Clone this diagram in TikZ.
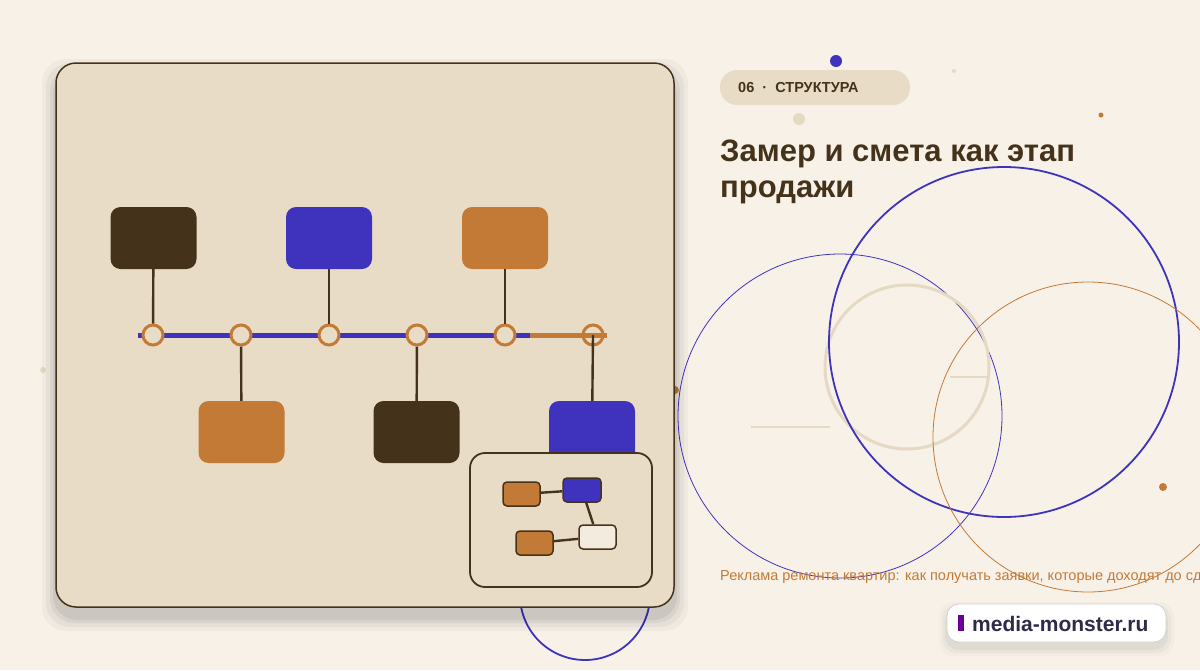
\documentclass[tikz,border=0pt]{standalone}
\usepackage{fontspec}
\setmainfont{Liberation Sans}
\definecolor{bg}{HTML}{F7F1E8}
\definecolor{card}{HTML}{E9DCC6}
\definecolor{dk}{HTML}{45321A}
\definecolor{bl}{HTML}{3F33BE}
\definecolor{or}{HTML}{C47A37}
\definecolor{bei}{HTML}{E6D9C4}
\definecolor{cream}{HTML}{F3EBDD}
\begin{document}
\begin{tikzpicture}[x=1pt,y=-1pt,
  box/.style={rounded corners=10pt,draw=none},
  ibox/.style={rounded corners=4pt,draw=dk,line width=1.5pt},
  conn/.style={draw=dk,line width=2.4pt},
  tc/.style={circle,draw=or,line width=3pt,fill=card,minimum size=20pt,inner sep=0pt},
  dot/.style={circle,inner sep=0pt}]
\fill[bg] (0,0) rectangle (1200,670);
\useasboundingbox (0,0) rectangle (1200,670);
% background circles
\draw[bl,line width=1.8pt] (585,595) circle (65);
\draw[bl,line width=0.8pt] (840,416) circle (162);
\draw[bei,line width=3pt] (907,367) circle (82);
\draw[bl,line width=1.8pt] (1004,342) circle (175);
\draw[or,line width=0.8pt] (1088,437) circle (155);
\draw[bei,line width=1.5pt] (751,427) -- (830,427);
\draw[bei,line width=1.5pt] (950,377) -- (990,377);
\node[dot,fill=bl,minimum size=12pt] (d1) at (836,61) {};
\node[dot,fill=bei,minimum size=12pt] (d2) at (799,119) {};
\node[dot,fill=bei,minimum size=4pt] (d3) at (954,71) {};
\node[dot,fill=or,minimum size=5pt] (d4) at (1101,115) {};
\node[dot,fill=or,minimum size=8pt] (d5) at (1163,487) {};
\node[dot,fill=bei,minimum size=6pt] (d6) at (43,370) {};
\node[dot,fill=or,minimum size=8pt] (d7) at (675,390) {};
% card shadow
\foreach \s/\o in {14/0.03,10/0.04,6/0.05,3/0.06}{
  \fill[black,opacity=\o,rounded corners=24pt] (56-\s,63-\s+10) rectangle (674+\s,607+\s+10);}
% main card
\draw[fill=card,draw=dk,line width=1.5pt,rounded corners=20pt] (56,63) rectangle (674,607);
% boxes
\node[box,fill=dk,minimum width=86pt,minimum height=62pt] (t1) at (153.5,238) {};
\node[box,fill=bl,minimum width=86pt,minimum height=62pt] (t2) at (329,238) {};
\node[box,fill=or,minimum width=86pt,minimum height=62pt] (t3) at (505,238) {};
\node[box,fill=or,minimum width=86pt,minimum height=62pt] (b1) at (241.5,432) {};
\node[box,fill=dk,minimum width=86pt,minimum height=62pt] (b2) at (416.5,432) {};
\node[box,fill=bl,minimum width=86pt,minimum height=62pt] (b3) at (592,432) {};
% timeline
\coordinate (l0) at (138,335); \coordinate (lm) at (530,335); \coordinate (l1) at (607,335);
\draw[bl,line width=5pt] (l0) -- (lm);
\draw[or,line width=5pt] (lm) -- (l1);
\foreach \i/\x in {1/153,2/241,3/329,4/417,5/505}{\node[tc] (c\i) at (\x,335) {};}
\node[tc,fill=none] (c6) at (593,335) {};
\draw[or,line width=5pt] (c6.west) -- (l1);
\draw[conn] (t1) -- (c1); \draw[conn] (t2) -- (c3); \draw[conn] (t3) -- (c5);
\draw[conn] (c2) -- (b1); \draw[conn] (c4) -- (b2); \draw[conn] (c6.center) -- (b3);
% inset
\draw[fill=card,draw=dk,line width=1.8pt,rounded corners=15pt] (470,453) rectangle (652,587);
\node[ibox,fill=or,minimum width=37pt,minimum height=24pt] (i1) at (521.5,494) {};
\node[ibox,fill=bl,minimum width=38pt,minimum height=24pt] (i2) at (582,490) {};
\node[ibox,fill=or,minimum width=37pt,minimum height=24pt] (i3) at (534.5,543) {};
\node[ibox,fill=cream,minimum width=37pt,minimum height=24pt] (i4) at (597.5,537) {};
\draw[conn] (i1) -- (i2); \draw[conn] (i2) -- (i4); \draw[conn] (i3) -- (i4);
% texts
\node[fill=card,rounded corners=17pt,minimum width=190pt,minimum height=35pt] (pill) at (815,87.5) {};
\node[anchor=west,text=dk,inner sep=0pt,font=\bfseries\fontsize{14.5}{16}\selectfont] (pt) at (738,87.5) {06~~·~~СТРУКТУРА};
\node[anchor=north west,text=dk,align=left,inner sep=0pt,font=\bfseries\fontsize{31}{36}\selectfont] (title) at (720,140) {Замер и смета как этап\\продажи};
\begin{scope}
\clip (0,0) rectangle (1200,670);
\node[anchor=west,text=or,inner sep=0pt,font=\fontsize{14.5}{16}\selectfont] (sub) at (720,577) {Реклама ремонта квартир: как получать заявки, которые доходят до сделки};
\end{scope}
\foreach \s/\o in {8/0.02,5/0.03,2/0.04}{
  \fill[black,opacity=\o,rounded corners=14pt] (947-\s,604-\s+6) rectangle (1166+\s,642+\s+6);}
\node[fill=white,draw=gray!35,line width=0.8pt,rounded corners=12pt,minimum width=219pt,minimum height=38pt] (badge) at (1056.5,623) {};
\fill[violet!80!blue] (958,615) rectangle (964,631);
\node[anchor=west,text={rgb,255:red,46;green,42;blue,74},font=\bfseries\fontsize{21}{24}\selectfont,inner sep=0pt] (bt) at (972,624) {media-monster.ru};
\end{tikzpicture}
\end{document}
